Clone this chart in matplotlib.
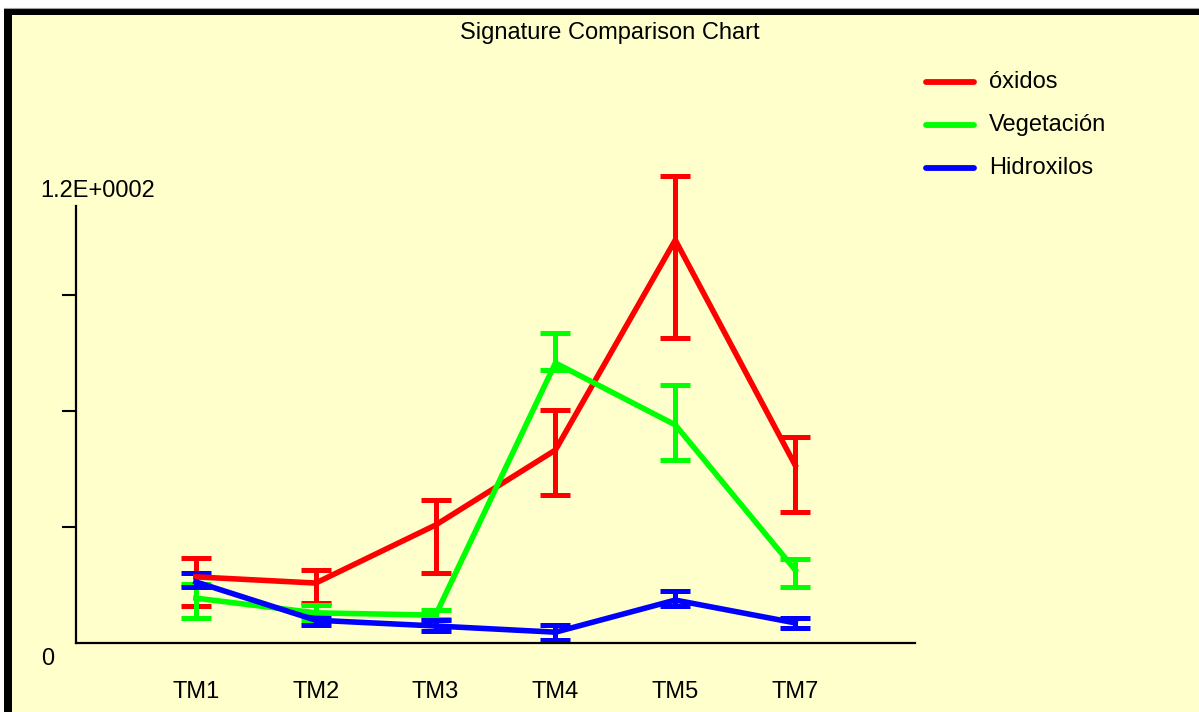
import matplotlib
matplotlib.use("Agg")
import matplotlib.pyplot as plt
from matplotlib.patches import Rectangle
from matplotlib.lines import Line2D

plt.rcParams['font.family'] = ['Liberation Sans', 'DejaVu Sans']

# data
bands = ['TM1', 'TM2', 'TM3', 'TM4', 'TM5', 'TM7']
series_names = ['óxidos', 'Vegetación', 'Hidroxilos']
series_colors = ['#ff0000', '#00ff00', '#0000ff']

oxidos_mean = [17.1, 15.5, 30.5, 49.9, 104.2, 46.0]
oxidos_low = [9.6, 10.3, 18.1, 38.3, 78.9, 33.9]
oxidos_high = [22.0, 18.9, 37.0, 60.3, 120.8, 53.3]

veget_mean = [11.6, 7.8, 7.2, 72.4, 56.4, 18.9]
veget_low = [6.5, 5.9, 6.2, 70.6, 47.3, 14.5]
veget_high = [15.3, 9.8, 8.5, 80.2, 66.7, 21.7]

hidro_mean = [15.8, 5.9, 4.4, 2.8, 11.1, 5.2]
hidro_low = [14.5, 4.7, 3.1, 0.8, 9.6, 3.9]
hidro_high = [18.1, 7.2, 5.9, 4.7, 13.4, 6.5]

y_ticks = [30, 60, 90]

W, H = 1199, 712
bg = '#ffffcc'

fig = plt.figure(figsize=(W / 100, H / 100), dpi=100)
fig.patch.set_facecolor('white')

def fx(px):
    return px / W

def fy(py):
    return 1 - py / H

# yellow panel + black frame (top and left)
fig.add_artist(Rectangle((fx(4), 0), 1 - fx(4), fy(8), transform=fig.transFigure,
                         facecolor=bg, edgecolor='none', zorder=0))
fig.add_artist(Rectangle((fx(4), fy(15)), 1 - fx(4), fy(8) - fy(15), transform=fig.transFigure,
                         facecolor='black', edgecolor='none', zorder=1))
fig.add_artist(Rectangle((fx(4), 0), fx(12) - fx(4), fy(8), transform=fig.transFigure,
                         facecolor='black', edgecolor='none', zorder=1))
fig.add_artist(Line2D([fx(4), 1], [fy(7.5), fy(7.5)], transform=fig.transFigure,
                      color='#a0a0a0', lw=0.8, zorder=1))

ax = fig.add_axes([fx(76), fy(643), fx(915) - fx(76), fy(206) - fy(643)])
ax.set_facecolor('none')

x = list(range(len(bands)))
means = [oxidos_mean, veget_mean, hidro_mean]
lows = [oxidos_low, veget_low, hidro_low]
highs = [oxidos_high, veget_high, hidro_high]

for name, color, m, lo, hi in zip(series_names, series_colors, means, lows, highs):
    yerr = [[a - b for a, b in zip(m, lo)], [c - a for a, c in zip(m, hi)]]
    ax.errorbar(x, m, yerr=yerr, color=color, lw=4.0, elinewidth=3.6,
                capsize=11, capthick=3.6, clip_on=False, label=name)

ax.set_xlim(-1, 6)
ax.set_ylim(0, 113)
ax.spines['top'].set_visible(False)
ax.spines['right'].set_visible(False)
ax.spines['left'].set_linewidth(1.6)
ax.spines['bottom'].set_linewidth(1.6)

ax.set_xticks(x, bands)
ax.tick_params(axis='x', length=0, pad=27, labelsize=17)
ax.set_yticks(y_ticks, [''] * len(y_ticks))
ax.tick_params(axis='y', length=10, width=1.5, direction='out')

fig.text(fx(48), fy(659), '0', fontsize=17, ha='center', va='center')
fig.text(fx(98), fy(191), '1.2E+0002', fontsize=17, ha='center', va='center')

fig.text(fx(610), fy(33), 'Signature Comparison Chart', fontsize=17,
         ha='center', va='center')

# legend
for i, (name, color) in enumerate(zip(series_names, series_colors)):
    yy = 82 + 43 * i
    fig.add_artist(Line2D([fx(926), fx(974)], [fy(yy), fy(yy)], transform=fig.transFigure,
                          color=color, lw=4.2, solid_capstyle='round'))
    fig.text(fx(989), fy(yy), name, fontsize=17, ha='left', va='center')

fig.savefig('out.png', dpi=100, facecolor=fig.get_facecolor())
